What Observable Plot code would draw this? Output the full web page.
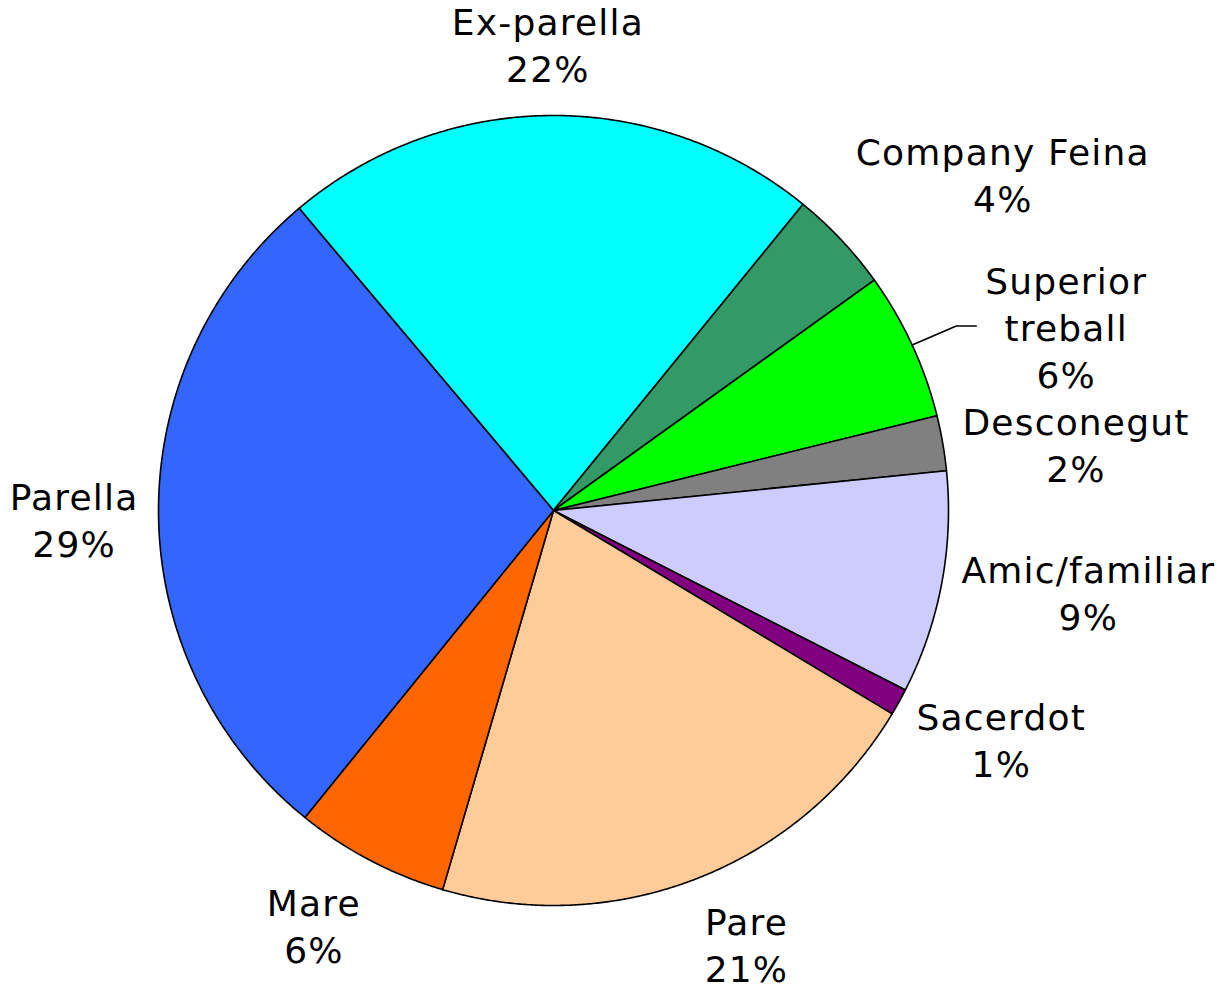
<!DOCTYPE html>
<html><head><meta charset="utf-8">
<script src="https://cdn.jsdelivr.net/npm/d3@7"></script>
<script src="https://cdn.jsdelivr.net/npm/@observablehq/plot@0.6"></script>
<style>body{margin:0;background:#fff} #chart svg text{letter-spacing:1.2px}</style>
</head><body><div id="chart"></div>
<script>
// ---- data ----
const categories = ["Ex-parella","Company Feina","Superior treball","Desconegut","Amic/familiar","Sacerdot","Pare","Mare","Parella"];
const values = [22.0, 4.2, 6.05, 2.25, 9.1, 1.1, 20.9, 6.3, 28.0];
const percentLabels = ["22%","4%","6%","2%","9%","1%","21%","6%","29%"];
const labelNames = ["Ex-parella","Company Feina","Superior\ntreball","Desconegut","Amic/familiar","Sacerdot","Pare","Mare","Parella"];
const colors = ["#00FFFF","#339966","#00FF00","#808080","#CCCCFF","#800080","#FFCC99","#FF6600","#3366FF"];

// ---- layout ----
const W = 1226, H = 987, R = 395;
const cx = 553, cy = 510;
const startDeg = -40.1;
const fontSize = 36, lineH = 47, gap = 20, letterSp = 1.2;
const FONT = "'DejaVu Sans', Verdana, sans-serif";
const movedLabel = {"Superior treball": [55, 30]}; // label dragged out with a leader line

const a0 = startDeg * Math.PI / 180;
const arcs = d3.pie().sort(null).value(d => d.value).startAngle(a0).endAngle(a0 + 2 * Math.PI)(
  categories.map((c, i) => ({cat: c, value: values[i], i}))
);

// polygon points for slices
const pts = [];
for (const a of arcs) {
  const c = a.data.cat;
  pts.push({cat: c, x: 0, y: 0});
  const n = Math.max(2, Math.ceil((a.endAngle - a.startAngle) / 0.005));
  for (let k = 0; k <= n; k++) {
    const t = a.startAngle + (a.endAngle - a.startAngle) * k / n;
    pts.push({cat: c, x: Math.sin(t), y: Math.cos(t)});
  }
}

// label positions (outside end, like the spreadsheet's layout)
const ctx = document.createElement("canvas").getContext("2d");
ctx.font = `${fontSize}px 'DejaVu Sans'`;
const clamp = (v, lo = -1, hi = 1) => Math.max(lo, Math.min(hi, v));
const labels = [];
const leaders = [];
for (const a of arcs) {
  const i = a.data.i;
  const text = labelNames[i] + "\n" + percentLabels[i];
  const lines = text.split("\n");
  const halfW = d3.max(lines, l => ctx.measureText(l).width + l.length * letterSp) / 2;
  const halfH = lines.length * lineH / 2;
  const m = (a.startAngle + a.endAngle) / 2;
  const ux = Math.sin(m), uy = -Math.cos(m); // pixel space, y down
  const fy = uy < 0
    ? -1.2 * clamp((-uy - 0.2) * 2.4, 0, 1)
    : 0.9 * clamp((uy - 0.2) * 1.9, 0, 1);
  let px = (R + gap) * ux + halfW * clamp(3 * ux);
  let py = (R + gap) * uy + 4 + halfH * fy;
  const mv = movedLabel[a.data.cat];
  if (mv) {
    px += mv[0]; py += mv[1];
    const left = px - halfW;
    leaders.push({g: i, x: ux, y: -uy});
    leaders.push({g: i, x: (left - 29) / R, y: -py / R});
    leaders.push({g: i, x: (left - 9) / R, y: -py / R});
  }
  labels.push({text, x: px / R, y: -py / R});
}

const chart = Plot.plot({
  width: W, height: H,
  marginLeft: cx - R, marginRight: W - cx - R,
  marginTop: cy - R, marginBottom: H - cy - R,
  x: {domain: [-1, 1], axis: null},
  y: {domain: [-1, 1], axis: null},
  color: {domain: categories, range: colors},
  style: {fontFamily: FONT, background: "#fff"},
  marks: [
    Plot.line(pts, {x: "x", y: "y", z: "cat", fill: "cat", stroke: "black", strokeWidth: 1.6, curve: "linear-closed", strokeLinejoin: "round"}),
    Plot.line(leaders, {x: "x", y: "y", z: "g", stroke: "black", strokeWidth: 1.6}),
    Plot.text(labels, {x: "x", y: "y", text: "text", fontSize, lineHeight: lineH / fontSize, fill: "black", fontFamily: FONT, lineAnchor: "middle"})
  ]
});
document.getElementById("chart").appendChild(chart);
</script>
</body></html>
